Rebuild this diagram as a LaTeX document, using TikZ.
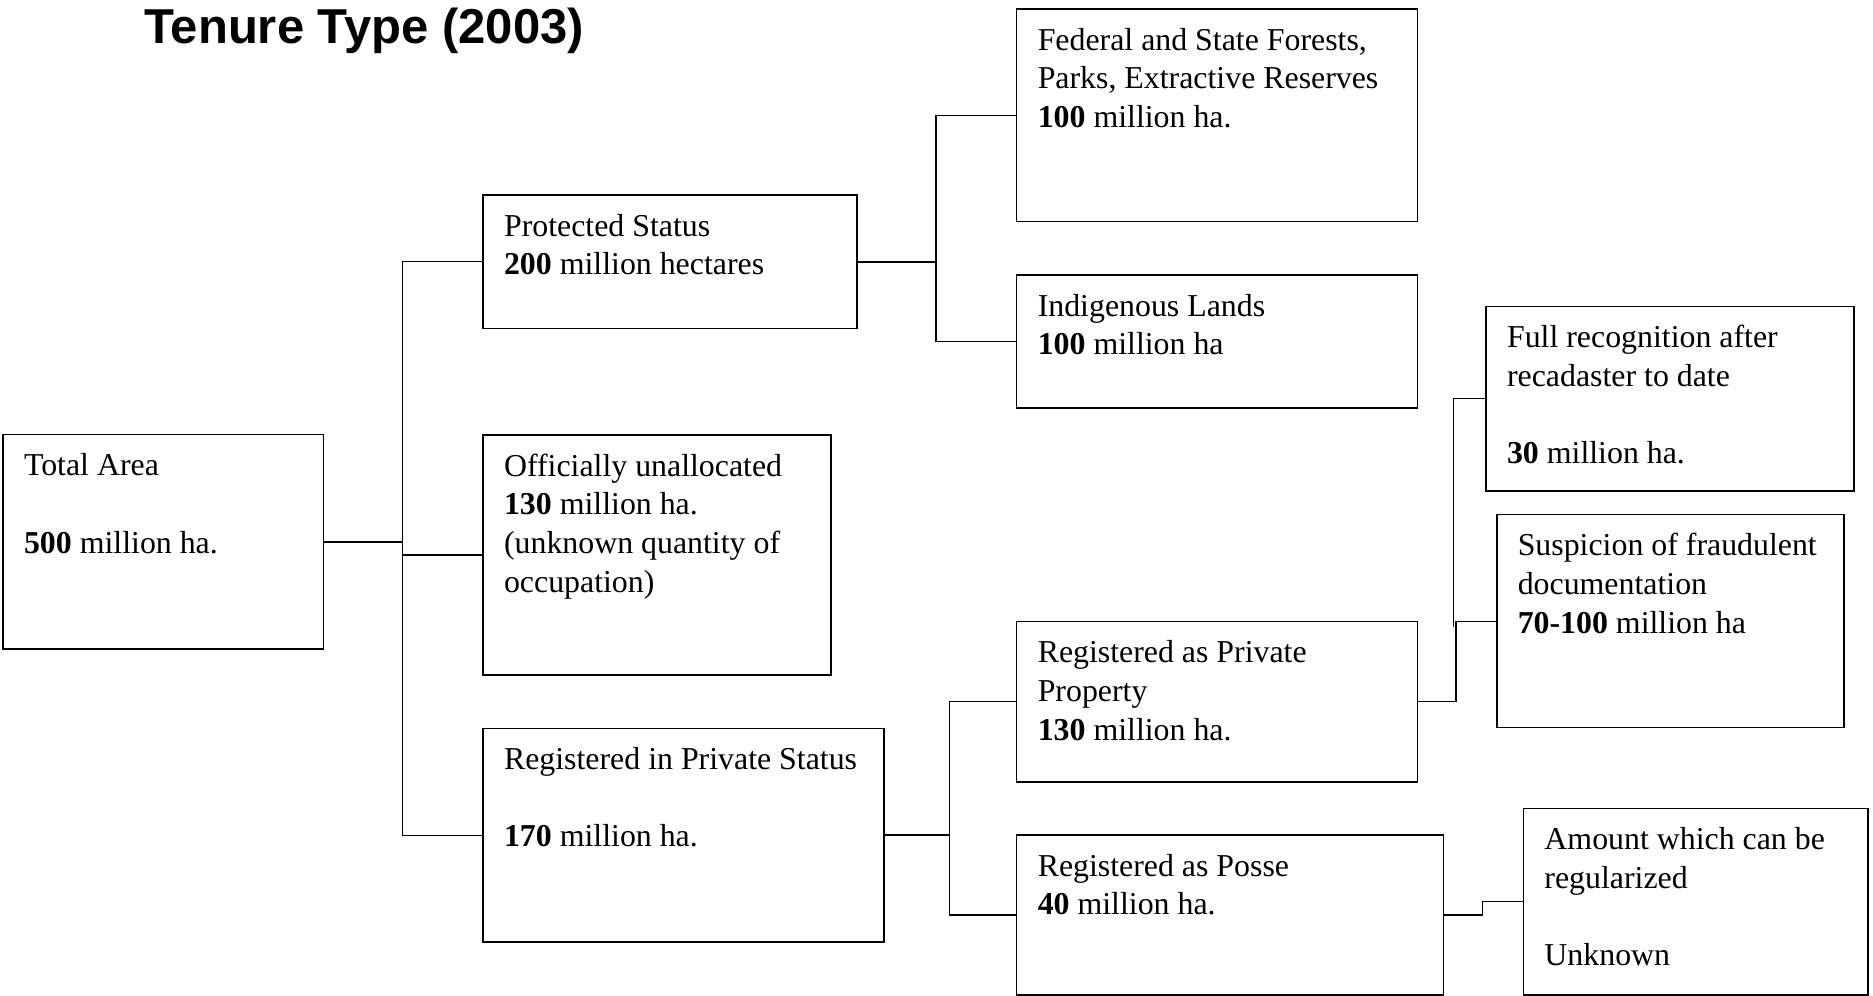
\documentclass[tikz,border=0pt]{standalone}
\usepackage{fontspec}
\setmainfont{Liberation Serif}
\newfontfamily\headfont{Liberation Sans}

\newdimen\pxunit \pxunit=0.3704pt
% text of a box, set from its top left corner
\newcommand{\cell}[3]{\parbox[t][\dimexpr#2\pxunit-28\pxunit\relax][t]{\dimexpr#1\pxunit-42\pxunit\relax}{\raggedright\strut#3}}

\tikzset{
  cell/.style={draw, line width=0.55pt, anchor=north west, inner xsep=7.78pt, inner ysep=5.19pt,
    font=\fontsize{11.8}{14.33}\selectfont},
  link/.style={line width=0.45pt},
  feed/.style={line width=0.85pt},
}

\begin{document}
\begin{tikzpicture}[x=0.3704pt, y=-0.3704pt]
        \useasboundingbox (0,0) rectangle (1873,995);
        \node[anchor=base west, inner sep=0pt, font=\headfont\bfseries\fontsize{18.15}{20}\selectfont] (title) at (144,43.3) {Tenure Type (2003)};

        \node[cell] (total) at (2.3,434) {\cell{320.4}{214.3}{Total Area\\[14.33pt]\textbf{500} million ha.}};
        \node[cell] (protd) at (482.3,194.3) {\cell{373.7}{133.4}{Protected Status\\\textbf{200} million hectares}};
        \node[cell] (unalloc) at (482.3,434.3) {\cell{347.7}{240}{Officially unallocated\\\textbf{130} million ha.\\(unknown quantity of\\occupation)}};
        \node[cell] (regpriv) at (482.3,727.7) {\cell{400.7}{213.6}{Registered in Private Status\\[14.33pt]\textbf{170} million ha.}};
        \node[cell] (federal) at (1016,8.3) {\cell{400.7}{212.4}{Federal and State Forests,\\Parks, Extractive Reserves\\\textbf{100} million ha.}};
        \node[cell] (indig) at (1016,274.3) {\cell{400.7}{133}{Indigenous Lands\\\textbf{100} million ha}};
        \node[cell] (regprop) at (1016,621) {\cell{400.7}{160}{Registered as Private\\Property\\\textbf{130} million ha.}};
        \node[cell] (posse) at (1016,834.3) {\cell{426.7}{159.7}{Registered as Posse\\\textbf{40} million ha.}};
        \node[cell] (fullrec) at (1485.3,306) {\cell{368}{184}{Full recognition after\\recadaster to date\\[14.33pt]\textbf{30} million ha.}};
        \node[cell] (fraud) at (1496,514) {\cell{347.3}{212.7}{Suspicion of fraudulent\\documentation\\\textbf{70-100} million ha}};
        \node[cell] (amount) at (1522.7,807.7) {\cell{344.3}{186.3}{Amount which can be\\regularized\\[14.33pt]Unknown}};

        \coordinate (j1) at (402.3,541.2);
        \coordinate (j2) at (936,261);
        \coordinate (j3) at (949.3,834.5);
        \coordinate (j4) at (1456,701);
        \coordinate (j5) at (1453.3,626.7);
        \coordinate (j6) at (1482.3,914);

        \draw[feed] (total.east) -- (total.east -| j1);
        \draw[link] (protd.west) -| (j1) |- (regpriv.west);
        \draw[link] (j1 |- unalloc.west) -- (unalloc.west);

        \draw[feed] (protd.east) -- (protd.east -| j2);
        \draw[link] (federal.west) -| (j2) |- (indig.west);

        \draw[feed] (regpriv.east) -- (regpriv.east -| j3);
        \draw[link] (regprop.west) -| (j3) |- (posse.west);

        \draw[link] (regprop.east) -| (j4 |- fraud.west) -- (fraud.west);
        \draw[link] (j5) |- (fullrec.west);

        \draw[link] (posse.east) -| (j6 |- amount.west) -- (amount.west);
      \end{tikzpicture}
\end{document}
